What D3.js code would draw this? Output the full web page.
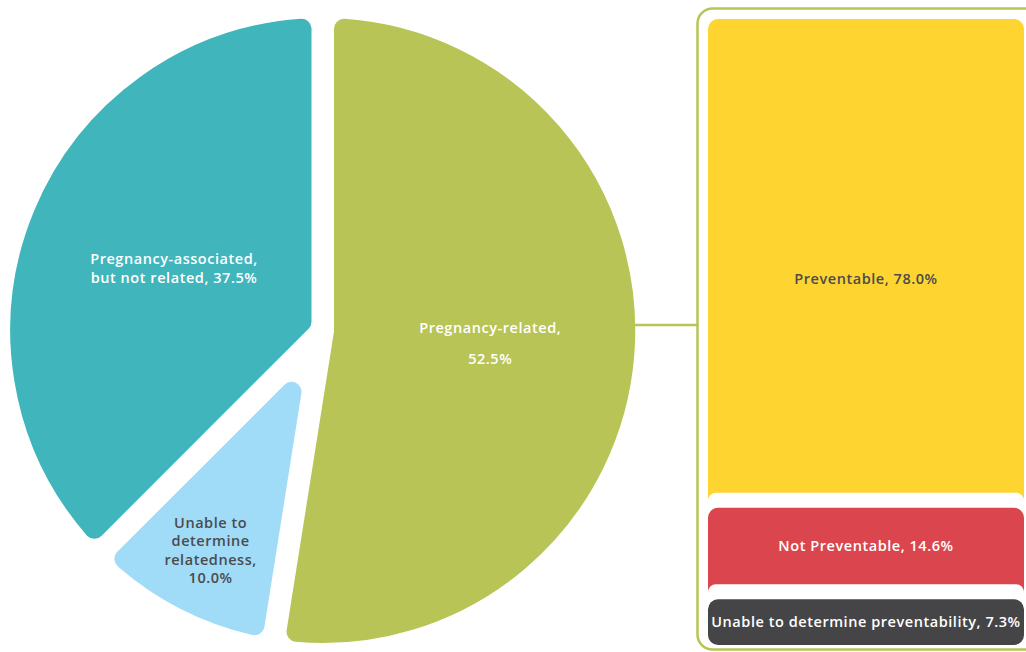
<!DOCTYPE html>
<html>
<head>
<meta charset="utf-8">
<script src="https://cdn.jsdelivr.net/npm/d3@7"></script>
<style>
  html, body { margin: 0; padding: 0; background: #ffffff; }
  svg { display: block; }
  text { font-family: "Open Sans", "Noto Sans", sans-serif; font-weight: 600; letter-spacing: 0.55px; }
</style>
</head>
<body>
<svg id="chart" width="1026" height="652"></svg>
<script>
// Share of deaths by relatedness to pregnancy (pie, clockwise from the top)
const relatednessCategories = ["Pregnancy-related", "Unable to determine relatedness", "Pregnancy-associated, but not related"];
const relatednessValues = [52.5, 10.0, 37.5];
const relatednessLabelLines = [
  ["Pregnancy-related,"],
  ["Unable to", "determine", "relatedness,"],
  ["Pregnancy-associated,", "but not related,"]
];

// Preventability of pregnancy-related deaths (stacked bar, top to bottom)
const preventabilityCategories = ["Preventable", "Not Preventable", "Unable to determine preventability"];
const preventabilityValues = [78.0, 14.6, 7.3];

const pct = v => d3.format(".1f")(v) + "%";

const svg = d3.select("#chart");

// ---------- pie ----------
const pieColors = ["#B9C456", "#A0DBF7", "#40B5BC"];
const pieText = ["#ffffff", "#4B4B4E", "#ffffff"];
const cx = 322.75, cy = 330.5;
const R = 312.5;      // visible outer radius
const gap = 11.25;    // half of the white gap between slices
const rc = 10;        // corner rounding
const fontSize = 14.5;

const pie = d3.pie().sort(null).value(d => d);
const arcs = pie(relatednessValues);

// point at radius r, angle a (clockwise from 12 o'clock)
const pt = (r, a) => [r * Math.sin(a), -r * Math.cos(a)];

// Slice shrunk by (gap + rc); a round-joined stroke of width 2*rc grows it back
// so every corner ends up rounded and gaps keep a constant width.
function slicePath(a0, a1) {
  const p = d3.path();
  const rho = R - rc, d = gap + rc;
  const da = a1 - a0;
  const off = Math.asin(d / rho);
  p.moveTo(...pt(rho, a0 + off));
  p.arc(0, 0, rho, a0 + off - Math.PI / 2, a1 - off - Math.PI / 2, false);
  if (da < Math.PI) {
    p.lineTo(...pt(d / Math.sin(da / 2), (a0 + a1) / 2));
  } else {
    p.lineTo(...pt(d, a1 - Math.PI / 2));
    p.arc(0, 0, d, a1 - Math.PI, a0, true);
  }
  p.closePath();
  return p.toString();
}

const pieG = svg.append("g").attr("transform", `translate(${cx},${cy})`);

pieG.selectAll("path.slice")
  .data(arcs)
  .join("path")
  .attr("class", "slice")
  .attr("d", d => slicePath(d.startAngle, d.endAngle))
  .attr("fill", (d, i) => pieColors[i])
  .attr("stroke", (d, i) => pieColors[i])
  .attr("stroke-width", 2 * rc)
  .attr("stroke-linejoin", "round");

// label placement for each slice: radius from the centre and line spacing
const pieLabelLayout = [
  { r: 168, lh: 31 },
  { r: 247, lh: 18.5 },
  { r: 161, lh: 19 }
];

arcs.forEach((d, i) => {
  const lay = pieLabelLayout[i];
  const mid = (d.startAngle + d.endAngle) / 2;
  const [lx, ly] = pt(lay.r, mid);
  const lines = relatednessLabelLines[i].slice();
  if (i === 2) {
    lines[lines.length - 1] += " " + pct(d.data);
  } else {
    lines.push(pct(d.data));
  }
  const n = lines.length;
  const t = pieG.append("text")
    .attr("text-anchor", "middle")
    .attr("fill", pieText[i])
    .attr("font-size", fontSize);
  lines.forEach((s, k) => {
    t.append("tspan")
      .attr("x", lx)
      .attr("y", ly + (k - (n - 1) / 2) * lay.lh)
      .attr("dy", "0.35em")
      .text(s);
  });
});

// ---------- connector and frame ----------
const frameColor = "#B9C456";
svg.append("line")
  .attr("x1", cx + R - 2).attr("x2", 697.5)
  .attr("y1", 325).attr("y2", 325)
  .attr("stroke", frameColor).attr("stroke-width", 2.5);

svg.append("rect")
  .attr("x", 697.5).attr("y", 8.5)
  .attr("width", 360).attr("height", 641)
  .attr("rx", 15)
  .attr("fill", "none")
  .attr("stroke", frameColor).attr("stroke-width", 2.5);

// ---------- stacked bar ----------
const barColors = ["#FED530", "#DB454D", "#454548"];
const barText = ["#4B4B4E", "#ffffff", "#ffffff"];
const barX = 708, barW = 316;
const halo = 15;

const y = d3.scaleLinear()
  .domain([0, d3.sum(preventabilityValues)])
  .range([19, 645]);

let cum = 0;
const segs = preventabilityValues.map((v, i) => {
  const s = { i, v, y0: cum, y1: cum + v, name: preventabilityCategories[i] };
  cum += v;
  return s;
});

const barG = svg.append("g");
segs.forEach(s => {
  if (s.i > 0) {
    barG.append("rect")
      .attr("x", barX).attr("width", barW)
      .attr("y", y(s.y0) - halo)
      .attr("height", halo + 20)
      .attr("rx", 8)
      .attr("fill", "#ffffff");
  }
  barG.append("rect")
    .attr("x", barX).attr("width", barW)
    .attr("y", y(s.y0))
    .attr("height", y(s.y1) - y(s.y0))
    .attr("rx", 10)
    .attr("fill", barColors[s.i]);
});

segs.forEach(s => {
  const top = y(s.y0);
  const bottom = s.i < segs.length - 1 ? y(s.y1) - halo : y(s.y1);
  const mid = s.i === 0 ? (top + bottom) / 2 + 23 : (top + bottom) / 2;
  barG.append("text")
    .attr("x", barX + barW / 2)
    .attr("y", mid)
    .attr("dy", "0.35em")
    .attr("text-anchor", "middle")
    .attr("font-size", fontSize)
    .attr("fill", barText[s.i])
    .text(`${s.name}, ${pct(s.v)}`);
});
</script>
</body>
</html>
